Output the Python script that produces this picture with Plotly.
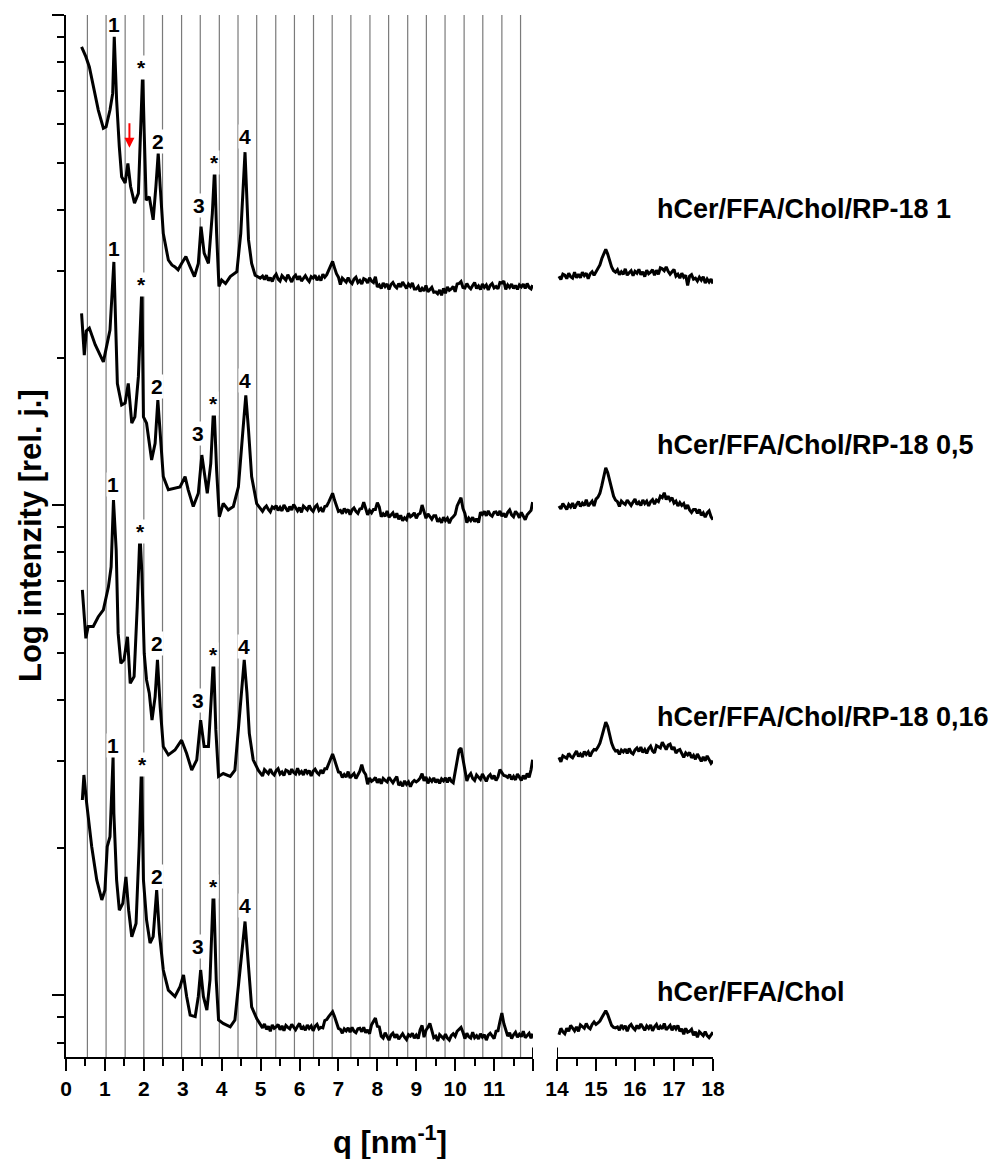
import numpy as np
import plotly.graph_objects as go

# ---------------- data (q in nm^-1, log10 of relative intensity) ----------------
# common sampling grids of the flat parts (q > 5 nm^-1, and the 14-18 nm^-1 window)
q_flat = [5.05,5.10,5.15,5.20,5.25,5.30,5.35,5.40,5.45,5.50,
          5.55,5.60,5.65,5.70,5.75,5.80,5.85,5.90,5.95,6.00,
          6.05,6.10,6.15,6.20,6.25,6.30,6.35,6.40,6.45,6.50,
          6.55,6.60,6.65,6.70,6.75,6.80,6.85,6.90,6.95,7.00,
          7.05,7.10,7.15,7.20,7.25,7.30,7.35,7.40,7.45,7.50,
          7.55,7.60,7.65,7.70,7.75,7.80,7.85,7.90,7.95,8.00,
          8.05,8.10,8.15,8.20,8.25,8.30,8.35,8.40,8.45,8.50,
          8.55,8.60,8.65,8.70,8.75,8.80,8.85,8.90,8.95,9.00,
          9.05,9.10,9.15,9.20,9.25,9.30,9.35,9.40,9.45,9.50,
          9.55,9.60,9.65,9.70,9.75,9.80,9.85,9.90,9.95,10.00,
          10.05,10.10,10.15,10.20,10.25,10.30,10.35,10.40,10.45,10.50,
          10.55,10.60,10.65,10.70,10.75,10.80,10.85,10.90,10.95,11.00,
          11.05,11.10,11.15,11.20,11.25,11.30,11.35,11.40,11.45,11.50,
          11.55,11.60,11.65,11.70,11.75,11.80,11.85,11.90,11.95,11.99]
q_hi = [14.05,14.10,14.15,14.20,14.25,14.30,14.35,14.40,14.45,14.50,
        14.55,14.60,14.65,14.70,14.75,14.80,14.85,14.90,14.95,15.00,
        15.05,15.10,15.15,15.20,15.25,15.30,15.35,15.40,15.45,15.50,
        15.55,15.60,15.65,15.70,15.75,15.80,15.85,15.90,15.95,16.00,
        16.05,16.10,16.15,16.20,16.25,16.30,16.35,16.40,16.45,16.50,
        16.55,16.60,16.65,16.70,16.75,16.80,16.85,16.90,16.95,17.00,
        17.05,17.10,17.15,17.20,17.25,17.30,17.35,17.40,17.45,17.50,
        17.55,17.60,17.65,17.70,17.75,17.80,17.85,17.90,17.95,18.00]

# Curve 1: hCer/FFA/Chol/RP-18 1
q_c1 = [0.40,0.51,0.60,0.70,0.83,0.96,1.03,1.13,1.20,1.24,1.30,1.37,1.43,1.52,1.59,1.66,1.76,1.86,1.93,1.97,
        2.01,2.06,2.14,2.24,2.31,2.37,2.42,2.50,2.63,2.72,2.80,2.88,2.97,3.08,3.19,3.30,3.40,3.47,3.55,3.66,
        3.76,3.82,3.87,3.93,4.00,4.10,4.22,4.39,4.49,4.60,4.69,4.77,4.86,4.99]
logI_c1 = [0.935,0.915,0.894,0.854,0.806,0.769,0.772,0.806,0.840,0.956,0.827,0.731,0.670,0.657,0.697,0.650,0.616,0.636,0.772,0.884,
           0.759,0.622,0.629,0.582,0.650,0.718,0.650,0.554,0.500,0.490,0.486,0.480,0.493,0.507,0.486,0.466,0.493,0.568,0.514,0.493,
           0.595,0.690,0.554,0.446,0.459,0.452,0.466,0.476,0.554,0.720,0.541,0.493,0.469,0.463]
logI_c1_flat = [.467,.460,.469,.458,.464,.456,.466,.471,.461,.457,
                .468,.463,.459,.470,.462,.455,.465,.469,.460,.467,
                .457,.464,.468,.461,.456,.466,.463,.469,.459,.465,
                .458,.471,.465,.470,.478,.488,.497,.484,.472,.465,
                .450,.463,.459,.455,.464,.456,.452,.461,.465,.454,
                .458,.451,.462,.460,.453,.464,.457,.454,.466,.445,
                .449,.442,.453,.446,.451,.440,.450,.454,.447,.443,
                .452,.445,.455,.448,.442,.451,.446,.453,.441,.441,
                .446,.436,.442,.437,.448,.435,.440,.444,.434,.435,
                .431,.439,.428,.442,.432,.445,.438,.441,.446,.435,
                .451,.452,.456,.444,.443,.452,.445,.441,.448,.454,
                .442,.447,.440,.451,.444,.449,.439,.448,.452,.443,
                .446,.441,.454,.453,.457,.440,.449,.444,.451,.442,
                .448,.440,.449,.445,.451,.442,.452,.444,.441,.449]
logI_c1_hi = [.467,.460,.471,.469,.462,.473,.466,.463,.475,.464,
              .471,.464,.475,.468,.473,.462,.472,.476,.469,.476,
              .483,.490,.503,.514,.522,.512,.497,.486,.478,.475,
              .480,.470,.476,.471,.482,.469,.474,.478,.468,.477,
              .473,.481,.470,.476,.466,.479,.472,.475,.480,.469,
              .479,.471,.484,.482,.478,.486,.477,.471,.476,.481,
              .467,.471,.463,.473,.465,.469,.448,.467,.470,.461,
              .463,.457,.465,.459,.466,.453,.461,.455,.461,.452]

# Curve 2: hCer/FFA/Chol/RP-18 0,5
q_c2 = [0.40,0.44,0.47,0.52,0.60,0.75,0.96,1.13,1.23,1.32,1.43,1.52,1.60,1.69,1.77,1.86,1.92,1.95,1.99,2.07,
        2.20,2.29,2.36,2.42,2.50,2.63,2.80,2.93,3.06,3.14,3.27,3.40,3.49,3.57,3.63,3.72,3.80,3.87,3.94,4.04,
        4.17,4.30,4.43,4.54,4.62,4.69,4.77,4.90]
logI_c2 = [0.391,0.330,0.306,0.355,0.361,0.327,0.292,0.357,0.496,0.248,0.204,0.208,0.248,0.167,0.180,0.262,0.378,0.445,0.180,0.167,
           0.092,0.126,0.214,0.153,0.058,0.031,0.034,0.037,0.058,0.031,-0.003,0.024,0.102,0.058,0.024,0.085,0.211,0.071,-0.024,0.003,
           -0.010,-0.003,0.037,0.146,0.224,0.153,0.058,0.003]
logI_c2_flat = [-.013,-.006,-.002,-.009,-.014,-.004,-.007,-.001,-.011,-.005,
                -.012,.000,-.008,-.013,-.003,-.010,.001,-.007,-.012,-.005,
                -.015,-.002,-.006,-.010,-.001,-.009,-.013,-.004,.000,-.011,
                -.007,-.014,-.003,-.002,.006,.016,.024,.010,-.002,-.013,
                -.011,-.018,-.007,-.014,-.009,-.020,-.010,-.006,-.013,-.017,
                -.008,-.007,.006,-.008,-.020,-.011,-.016,-.009,-.009,.005,
                -.004,-.024,-.018,-.023,-.012,-.025,-.020,-.016,-.026,-.017,
                -.029,-.021,-.032,-.026,-.030,-.017,-.024,-.021,-.016,-.027,
                -.019,-.017,.000,-.014,-.027,-.018,-.025,-.029,-.022,-.022,
                -.034,-.029,-.036,-.025,-.032,-.027,-.037,-.028,-.024,-.019,
                -.002,.008,.015,-.007,-.017,-.036,-.027,-.032,-.025,-.034,
                -.028,-.036,-.015,-.019,-.013,-.022,-.012,-.020,-.023,-.015,
                -.014,-.021,-.012,-.023,-.017,-.025,-.015,-.010,-.020,-.024,
                -.013,-.018,-.026,-.015,-.023,-.030,-.020,-.016,-.011,.006]
logI_c2_hi = [-.002,-.008,.003,-.004,-.009,.001,-.004,.004,-.007,.001,
              .007,-.003,.004,-.001,.011,-.002,.003,.008,-.002,.012,
              .016,.024,.040,.060,.076,.066,.048,.032,.018,.010,
              .007,-.003,.008,.004,.001,.010,.003,-.001,.006,.012,
              .001,.006,-.001,.010,.003,.008,-.002,.007,.011,.002,
              .010,.007,.018,.015,.025,.011,.018,.010,.015,.004,
              .008,-.002,.005,-.001,.003,-.008,.000,-.010,-.015,-.009,
              -.009,-.017,-.009,-.021,-.016,-.025,-.016,-.012,-.024,-.030]

# Curve 3: hCer/FFA/Chol/RP-18 0,16
q_c3 = [0.42,0.51,0.57,0.70,0.83,0.96,1.09,1.16,1.22,1.29,1.34,1.41,1.49,1.58,1.65,1.75,1.83,1.90,1.95,2.01,
        2.07,2.14,2.21,2.29,2.35,2.42,2.50,2.63,2.80,2.97,3.10,3.23,3.36,3.46,3.55,3.66,3.73,3.79,3.85,3.92,
        4.04,4.22,4.34,4.47,4.58,4.65,4.71,4.81,4.94]
logI_c3 = [-0.173,-0.272,-0.248,-0.248,-0.228,-0.214,-0.167,-0.126,0.010,-0.092,-0.262,-0.323,-0.316,-0.269,-0.364,-0.350,-0.208,-0.058,-0.139,-0.303,
           -0.357,-0.384,-0.439,-0.391,-0.316,-0.412,-0.493,-0.510,-0.500,-0.480,-0.507,-0.541,-0.520,-0.439,-0.493,-0.493,-0.398,-0.310,-0.459,-0.554,
           -0.548,-0.554,-0.541,-0.425,-0.316,-0.384,-0.466,-0.520,-0.541]
logI_c3_flat = [-.553,-.540,-.544,-.548,-.539,-.547,-.551,-.542,-.538,-.549,
                -.545,-.552,-.541,-.543,-.550,-.539,-.546,-.549,-.537,-.548,
                -.544,-.551,-.540,-.547,-.542,-.553,-.543,-.539,-.546,-.550,
                -.541,-.548,-.538,-.538,-.528,-.516,-.508,-.520,-.534,-.545,
                -.546,-.556,-.550,-.555,-.544,-.557,-.552,-.548,-.558,-.549,
                -.543,-.530,-.544,-.550,-.570,-.557,-.564,-.561,-.556,-.567,
                -.559,-.569,-.558,-.562,-.565,-.556,-.563,-.567,-.560,-.554,
                -.572,-.567,-.574,-.563,-.570,-.565,-.575,-.566,-.562,-.565,
                -.562,-.557,-.548,-.563,-.555,-.568,-.559,-.564,-.557,-.566,
                -.560,-.568,-.559,-.563,-.557,-.566,-.556,-.564,-.567,-.542,
                -.520,-.500,-.496,-.520,-.544,-.563,-.553,-.548,-.558,-.562,
                -.551,-.556,-.560,-.549,-.557,-.564,-.554,-.550,-.559,-.552,
                -.562,-.555,-.540,-.547,-.552,-.553,-.556,-.550,-.560,-.554,
                -.561,-.549,-.557,-.562,-.552,-.559,-.548,-.556,-.540,-.520]
logI_c3_hi = [-.515,-.524,-.512,-.515,-.517,-.507,-.513,-.516,-.508,-.502,
              -.513,-.508,-.514,-.503,-.509,-.504,-.513,-.504,-.499,-.500,
              -.494,-.486,-.472,-.456,-.443,-.452,-.470,-.486,-.496,-.502,
              -.501,-.509,-.500,-.504,-.498,-.507,-.497,-.505,-.508,-.500,
              -.496,-.503,-.494,-.505,-.499,-.507,-.497,-.492,-.502,-.506,
              -.491,-.494,-.496,-.484,-.491,-.499,-.490,-.488,-.499,-.494,
              -.506,-.501,-.499,-.508,-.515,-.506,-.510,-.505,-.516,-.511,
              -.519,-.508,-.517,-.523,-.514,-.522,-.512,-.521,-.527,-.522]

# Curve 4: hCer/FFA/Chol
q_c4 = [0.42,0.46,0.53,0.66,0.79,0.92,1.00,1.06,1.13,1.18,1.21,1.23,1.30,1.37,1.46,1.54,1.61,1.69,1.80,1.88,
        1.94,1.99,2.07,2.16,2.24,2.33,2.40,2.50,2.63,2.80,2.93,3.02,3.10,3.19,3.32,3.40,3.46,3.53,3.62,3.70,
        3.79,3.86,3.92,4.04,4.22,4.34,4.47,4.60,4.69,4.77,4.90]
logI_c4 = [-0.602,-0.551,-0.608,-0.697,-0.765,-0.806,-0.786,-0.697,-0.677,-0.561,-0.514,-0.629,-0.765,-0.827,-0.813,-0.759,-0.827,-0.881,-0.854,-0.697,
           -0.531,-0.765,-0.847,-0.894,-0.881,-0.786,-0.874,-0.949,-0.990,-1.003,-0.983,-0.959,-1.003,-1.041,-1.044,-1.003,-0.949,-1.003,-1.031,-0.969,
           -0.776,-0.969,-1.051,-1.058,-1.065,-1.051,-0.956,-0.850,-0.942,-1.024,-1.048]
logI_c4_flat = [-1.067,-1.059,-1.070,-1.064,-1.074,-1.061,-1.068,-1.065,-1.060,-1.071,
                -1.063,-1.073,-1.062,-1.066,-1.069,-1.060,-1.067,-1.071,-1.064,-1.058,
                -1.070,-1.065,-1.072,-1.061,-1.068,-1.063,-1.073,-1.064,-1.060,-1.069,
                -1.066,-1.067,-1.052,-1.050,-1.044,-1.038,-1.034,-1.044,-1.056,-1.068,
                -1.070,-1.078,-1.069,-1.073,-1.067,-1.076,-1.066,-1.074,-1.077,-1.069,
                -1.068,-1.075,-1.066,-1.077,-1.071,-1.079,-1.061,-1.054,-1.047,-1.064,
                -1.065,-1.084,-1.088,-1.077,-1.085,-1.092,-1.082,-1.078,-1.087,-1.080,
                -1.090,-1.083,-1.079,-1.086,-1.091,-1.081,-1.084,-1.078,-1.088,-1.082,
                -1.089,-1.071,-1.062,-1.086,-1.072,-1.066,-1.058,-1.072,-1.087,-1.084,
                -1.094,-1.081,-1.085,-1.089,-1.080,-1.088,-1.092,-1.083,-1.079,-1.084,
                -1.074,-1.070,-1.066,-1.076,-1.089,-1.078,-1.085,-1.088,-1.076,-1.087,
                -1.083,-1.090,-1.079,-1.086,-1.081,-1.092,-1.082,-1.078,-1.085,-1.089,
                -1.074,-1.073,-1.054,-1.037,-1.058,-1.071,-1.084,-1.077,-1.089,-1.081,
                -1.076,-1.086,-1.080,-1.085,-1.074,-1.087,-1.082,-1.078,-1.088,-1.079]
logI_c4_hi = [-1.081,-1.068,-1.075,-1.079,-1.068,-1.074,-1.062,-1.069,-1.073,-1.065,
              -1.074,-1.061,-1.064,-1.068,-1.058,-1.066,-1.069,-1.060,-1.055,-1.060,
              -1.057,-1.053,-1.046,-1.038,-1.032,-1.040,-1.052,-1.062,-1.066,-1.067,
              -1.065,-1.072,-1.061,-1.068,-1.063,-1.074,-1.064,-1.060,-1.067,-1.071,
              -1.062,-1.069,-1.059,-1.066,-1.072,-1.063,-1.068,-1.061,-1.073,-1.065,
              -1.060,-1.070,-1.064,-1.069,-1.058,-1.071,-1.066,-1.062,-1.072,-1.063,
              -1.069,-1.062,-1.074,-1.069,-1.080,-1.068,-1.076,-1.074,-1.070,-1.082,
              -1.075,-1.086,-1.075,-1.080,-1.083,-1.075,-1.083,-1.087,-1.081,-1.076]

series_names = ["hCer/FFA/Chol/RP-18 1", "hCer/FFA/Chol/RP-18 0,5",
                "hCer/FFA/Chol/RP-18 0,16", "hCer/FFA/Chol"]

# reflection positions of the lamellar phase (grey reference lines)
ref_lines_q = [0.55,1.03,1.52,2.00,2.48,2.97,3.45,3.94,4.42,4.90,5.39,5.87,6.36,6.84,7.32,7.81,
               8.29,8.78,9.26,9.74,10.23,10.71,11.20,11.68]

# peak labels: (text, q, log10 intensity) per curve
peak_labels = [
    [("1",1.24,0.980),("*",1.95,0.893),("2",2.36,0.741),("3",3.42,0.612),("*",3.81,0.700),("4",4.60,0.752)],
    [("1",1.24,0.524),("*",1.95,0.449),("2",2.33,0.241),("3",3.40,0.146),("*",3.79,0.208),("4",4.60,0.255)],
    [("1",1.22,0.041),("*",1.92,-0.055),("2",2.35,-0.282),("3",3.40,-0.398),("*",3.79,-0.306),("4",4.58,-0.289)],
    [("1",1.22,-0.490),("*",1.97,-0.530),("2",2.35,-0.759),("3",3.40,-0.901),("*",3.79,-0.779),("4",4.60,-0.818)],
]
series_label_y = [0.8138, 0.5873, 0.3263, 0.0624]

x_ticks_lo = [0,1,2,3,4,5,6,7,8,9,10,11,12]
x_ticktext_lo = ["0","1","2","3","4","5","6","7","8","9","10","11",""]
x_minor_lo = [0.5,1.5,2.5,3.5,4.5,5.5,6.5,7.5,8.5,9.5,10.5,11.5]
x_ticks_hi = [14,15,16,17,18]
x_minor_hi = [14.5,15.5,16.5,17.5]
y_major = [0.1,1,10]
y_minor = [0.08,0.09,0.2,0.3,0.4,0.5,0.6,0.7,0.8,0.9,2,3,4,5,6,7,8,9]

# ---------------- figure ----------------
FONT = "Liberation Sans, Arial, sans-serif"
LW = 3
fig = go.Figure()

curves = [(q_c1, logI_c1, logI_c1_flat, logI_c1_hi), (q_c2, logI_c2, logI_c2_flat, logI_c2_hi),
          (q_c3, logI_c3, logI_c3_flat, logI_c3_hi), (q_c4, logI_c4, logI_c4_flat, logI_c4_hi)]
for name, (qa, la, lf, lh) in zip(series_names, curves):
    xs = list(qa) + list(q_flat)
    ys = 10 ** np.array(list(la) + list(lf))
    fig.add_trace(go.Scatter(x=xs, y=ys, mode="lines", name=name,
                             line=dict(color="black", width=LW), xaxis="x", yaxis="y", showlegend=False))
    fig.add_trace(go.Scatter(x=q_hi, y=10 ** np.array(lh), mode="lines", name=name,
                             line=dict(color="black", width=LW), xaxis="x2", yaxis="y", showlegend=False))

shapes = []
for q in ref_lines_q:
    shapes.append(dict(type="line", xref="x", yref="paper", x0=q, x1=q, y0=0, y1=1,
                       line=dict(color="#7a7a7a", width=1.2), layer="below"))
# axis-break markers
shapes.append(dict(type="line", xref="x", yref="paper", x0=12, x1=12, y0=0, y1=0.009,
                   line=dict(color="black", width=2)))
shapes.append(dict(type="line", xref="x2", yref="paper", x0=14, x1=14, y0=0, y1=0.009,
                   line=dict(color="black", width=2)))

annotations = []
for labels in peak_labels:
    for txt, q, ly in labels:
        annotations.append(dict(text=txt, x=q, y=ly, xref="x", yref="y", showarrow=False,
                                bgcolor="white", borderpad=0,
                                font=dict(family=FONT, size=21, color="black", weight="bold")))
for name, py in zip(series_names, series_label_y):
    annotations.append(dict(text=name, x=0.9104, y=py, xref="paper", yref="paper",
                            xanchor="left", yanchor="middle", showarrow=False,
                            font=dict(family=FONT, size=27, color="black", weight="bold")))
# red arrow
annotations.append(dict(text="", x=1.63, y=0.729, xref="x", yref="y", showarrow=True,
                        ax=0, ay=-26, arrowcolor="red", arrowwidth=2, arrowhead=2, arrowsize=1,
                        standoff=0))
# axis titles
annotations.append(dict(text="q [nm<sup>-1</sup>]", x=0.5, y=-0.0797, xref="paper", yref="paper",
                        xanchor="center", yanchor="middle", showarrow=False,
                        font=dict(family=FONT, size=31, color="black", weight="bold")))
annotations.append(dict(text="Log intenzity [rel. j.]", x=-0.0556, y=0.5, xref="paper", yref="paper",
                        xanchor="center", yanchor="middle", textangle=-90, showarrow=False,
                        font=dict(family=FONT, size=31, color="black", weight="bold")))

axis_common = dict(showgrid=False, zeroline=False, showline=True, linecolor="black", linewidth=2,
                   ticks="outside", ticklen=12, tickwidth=2, tickcolor="black",
                   tickfont=dict(family=FONT, size=21, color="black", weight="bold"))

# page body has an 8 px margin, so the figure is made 8 px smaller and shifted accordingly
fig.update_layout(
    width=992, height=1151,
    margin=dict(l=58, r=287, t=7, b=102),
    paper_bgcolor="white", plot_bgcolor="white",
    showlegend=False,
    xaxis=dict(domain=[0, 0.7218], range=[0, 12], anchor="y",
               tickmode="array", tickvals=x_ticks_lo, ticktext=x_ticktext_lo,
               minor=dict(tickmode="array", tickvals=x_minor_lo, ticks="outside", ticklen=7,
                          tickwidth=2, tickcolor="black"),
               **axis_common),
    xaxis2=dict(domain=[0.7589, 1.0], range=[14, 18], anchor="y",
                tickmode="array", tickvals=x_ticks_hi, ticktext=[str(v) for v in x_ticks_hi],
                minor=dict(tickmode="array", tickvals=x_minor_hi, ticks="outside", ticklen=7,
                           tickwidth=2, tickcolor="black"),
                **axis_common),
    yaxis=dict(type="log", range=[-1.1265, 1.0], anchor="x",
               tickmode="array", tickvals=y_major, showticklabels=False,
               minor=dict(tickmode="array", tickvals=y_minor, ticks="outside", ticklen=7,
                          tickwidth=2, tickcolor="black"),
               **axis_common),
    shapes=shapes,
    annotations=annotations,
)

fig.write_html("out.html")
